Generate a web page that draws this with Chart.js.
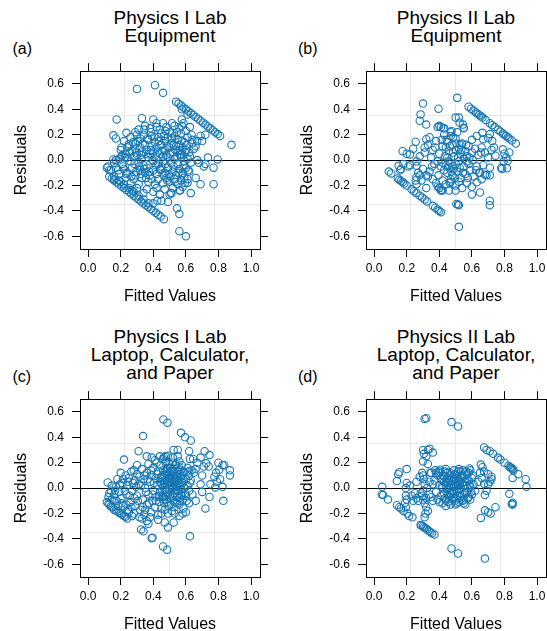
<!DOCTYPE html>
<html>
<head>
<meta charset="utf-8">
<title>Residuals vs Fitted Values</title>
<script src="https://cdn.jsdelivr.net/npm/chart.js@4.4.1/dist/chart.umd.min.js"></script>
<style>
  html, body { margin: 0; padding: 0; width: 547px; height: 631px; overflow: hidden; background: #fff; }
  body { position: relative; font-family: "Liberation Sans", Arial, sans-serif; color: #000; }
  .panel { position: absolute; width: 273px; height: 256px; }
  .title { position: absolute; width: 300px; text-align: center; font-size: 19px; line-height: 18px; }
  .tag { position: absolute; font-size: 16px; line-height: 16px; }
</style>
</head>
<body>
<div class="title" style="left:20px; top:9.4px">Physics I Lab<br>Equipment</div>
<div class="title" style="left:306px; top:9.4px">Physics II Lab<br>Equipment</div>
<div class="title" style="left:20px; top:327.7px">Physics I Lab<br>Laptop, Calculator,<br>and Paper</div>
<div class="title" style="left:306px; top:327.7px">Physics II Lab<br>Laptop, Calculator,<br>and Paper</div>
<div class="tag" style="left:12.5px; top:41px">(a)</div>
<div class="tag" style="left:298px; top:41px">(b)</div>
<div class="tag" style="left:12.5px; top:369px">(c)</div>
<div class="tag" style="left:298px; top:369px">(d)</div>

<canvas id="chartA" class="panel" width="273" height="256" style="left:0; top:56px"></canvas>
<canvas id="chartB" class="panel" width="273" height="256" style="left:286px; top:56px"></canvas>
<canvas id="chartC" class="panel" width="273" height="256" style="left:0; top:384px"></canvas>
<canvas id="chartD" class="panel" width="273" height="256" style="left:286px; top:384px"></canvas>

<script>
// axis ticks and reference lines
const xTicks = [0, 0.2, 0.4, 0.6, 0.8, 1.0];
const yTicks = [-0.6, -0.4, -0.2, 0, 0.2, 0.4, 0.6];
const xGridLines = [0.225, 0.5, 0.775];
const yGridLines = [-0.35, 0, 0.35];
const xRange = [-0.05, 1.055];
const yRange = [-0.7, 0.7];

// [fitted, residual] pairs
const panelA = [
  [0.30,0.56],[0.41,0.59],[0.46,0.53],
  [0.54,0.46],[0.555,0.445],[0.57,0.43],[0.585,0.415],[0.60,0.40],[0.615,0.385],[0.63,0.37],[0.645,0.355],[0.66,0.34],[0.675,0.325],
  [0.69,0.31],[0.705,0.295],[0.72,0.28],[0.735,0.265],[0.75,0.25],[0.765,0.235],[0.78,0.22],[0.795,0.205],[0.81,0.19],[0.88,0.12],
  [0.575,0.40],[0.61,0.36],
  [0.13,-0.13],[0.145,-0.145],[0.16,-0.16],[0.175,-0.175],[0.19,-0.19],[0.205,-0.205],[0.22,-0.22],[0.235,-0.235],[0.25,-0.25],
  [0.265,-0.265],[0.28,-0.28],[0.295,-0.295],[0.31,-0.31],[0.325,-0.325],[0.34,-0.34],[0.355,-0.355],[0.37,-0.37],[0.385,-0.385],
  [0.40,-0.40],[0.415,-0.415],[0.43,-0.43],[0.445,-0.445],[0.465,-0.465],
  [0.16,-0.13],[0.19,-0.16],[0.22,-0.19],[0.25,-0.22],[0.28,-0.25],[0.31,-0.28],[0.34,-0.31],[0.37,-0.34],
  [0.56,-0.56],[0.60,-0.60],
  [0.175,0.32],[0.33,0.33],[0.40,0.32],[0.155,0.195],[0.17,0.17],[0.235,0.215],[0.29,0.22],[0.30,0.20],[0.42,0.26],[0.46,0.29],
  [0.515,0.29],[0.575,0.32],[0.585,0.29],[0.575,0.27],[0.625,0.26],[0.635,0.20],[0.69,0.19],[0.72,0.20],[0.70,0.15],[0.67,0.15],
  [0.64,0.13],[0.66,0.11],[0.735,0.02],[0.795,0.005],[0.72,-0.03],[0.77,-0.06],[0.71,-0.05],[0.68,-0.02],[0.77,-0.19],[0.69,-0.19],
  [0.63,-0.26],[0.66,-0.14],[0.61,-0.15],[0.12,-0.05],[0.115,-0.06],[0.13,-0.08],[0.17,0.00],[0.155,0.005],[0.205,0.03],[0.21,0.04],
  [0.25,0.125],[0.24,0.10],[0.44,-0.27],[0.49,-0.33],[0.51,-0.26],[0.565,-0.24],[0.545,-0.38],[0.56,-0.425],[0.45,-0.32],[0.40,-0.34],
  [0.425,-0.32],[0.50,-0.27],
  [0.35,0.27],[0.38,0.25],[0.44,0.24],[0.48,0.26],[0.50,0.22],[0.53,0.27],[0.56,0.25],[0.60,0.23],[0.31,0.24],[0.42,0.29],
  [0.22,0.15],[0.26,0.18],[0.29,0.13],[0.32,0.17],[0.34,0.20],[0.37,0.16],[0.39,0.19],[0.41,0.14],[0.43,0.18],[0.45,0.21],
  [0.47,0.15],[0.49,0.18],[0.51,0.13],[0.53,0.19],[0.55,0.16],[0.57,0.21],[0.59,0.14],[0.61,0.18],[0.64,0.16],
  [0.20,0.08],[0.23,0.05],[0.25,0.11],[0.27,0.07],[0.29,0.09],[0.30,0.04],[0.32,0.10],[0.33,0.06],[0.35,0.12],[0.36,0.08],
  [0.38,0.05],[0.39,0.11],[0.40,0.07],[0.42,0.10],[0.44,0.05],[0.45,0.12],[0.47,0.08],[0.48,0.04],[0.50,0.10],[0.52,0.06],
  [0.54,0.11],[0.55,0.07],[0.57,0.05],[0.58,0.10],[0.60,0.08],[0.62,0.06],[0.65,0.09],[0.56,0.12],[0.46,0.03],
  [0.16,-0.02],[0.19,0.01],[0.21,-0.03],[0.24,0.02],[0.26,-0.01],[0.28,0.03],[0.31,-0.02],[0.33,0.01],[0.34,-0.04],[0.37,0.02],
  [0.40,-0.01],[0.41,0.03],[0.43,-0.03],[0.46,-0.01],[0.49,0.02],[0.51,-0.02],[0.53,0.01],[0.55,-0.03],[0.57,0.02],[0.59,-0.01],
  [0.61,0.01],[0.63,-0.02],[0.67,0.00],
  [0.14,-0.08],[0.17,-0.06],[0.19,-0.11],[0.22,-0.07],[0.24,-0.10],[0.27,-0.06],[0.29,-0.12],[0.32,-0.08],[0.35,-0.10],[0.36,-0.06],
  [0.38,-0.12],[0.40,-0.08],[0.42,-0.11],[0.44,-0.07],[0.47,-0.10],[0.49,-0.06],[0.52,-0.09],[0.54,-0.12],[0.56,-0.07],[0.58,-0.10],
  [0.60,-0.06],[0.62,-0.09],[0.45,-0.05],
  [0.16,-0.15],[0.20,-0.17],[0.23,-0.14],[0.26,-0.18],[0.28,-0.15],[0.31,-0.19],[0.33,-0.14],[0.37,-0.17],[0.39,-0.15],[0.41,-0.19],
  [0.43,-0.15],[0.46,-0.18],[0.48,-0.14],[0.50,-0.17],[0.53,-0.15],[0.55,-0.19],[0.57,-0.16],[0.59,-0.14],[0.61,-0.18],
  [0.27,-0.24],[0.30,-0.22],[0.34,-0.26],[0.36,-0.23],[0.40,-0.25],[0.42,-0.22],[0.44,-0.27],[0.47,-0.23],[0.51,-0.26],[0.52,-0.22],
  [0.56,-0.24],[0.58,-0.21],
  [0.255,0.06],[0.275,0.14],[0.285,-0.03],[0.295,0.06],[0.305,0.15],[0.315,-0.05],[0.325,0.04],[0.335,0.13],[0.345,-0.07],[0.355,0.05],
  [0.365,0.17],[0.375,-0.09],[0.385,0.08],[0.395,0.00],[0.405,0.18],[0.415,-0.04],[0.425,0.06],[0.435,0.15],[0.445,-0.08],[0.455,0.07],
  [0.465,0.19],[0.475,-0.03],[0.485,0.11],[0.495,-0.11],[0.505,0.05],[0.515,0.17],[0.525,-0.05],[0.535,0.08],[0.545,0.22],[0.555,-0.10],
  [0.565,0.04],[0.575,0.15],[0.585,-0.04],[0.595,0.06],[0.605,0.12],[0.615,-0.08],[0.625,0.03],[0.545,0.03],[0.565,0.08],[0.525,0.12],
  [0.505,-0.13],[0.485,-0.16],[0.465,-0.12],[0.445,0.12],[0.355,-0.14],[0.325,-0.11],[0.295,-0.09],[0.265,-0.13],[0.235,-0.11],[0.215,-0.05],
  [0.185,-0.08],[0.205,0.10],[0.225,0.02],[0.575,-0.12],[0.595,-0.18],[0.535,-0.17],[0.515,0.21],[0.475,0.23],[0.385,0.22],[0.345,0.24]
];

const panelB = [
  [0.58,0.42],[0.595,0.405],[0.61,0.39],[0.625,0.375],[0.635,0.365],[0.645,0.355],[0.655,0.345],[0.665,0.335],[0.685,0.315],[0.71,0.29],
  [0.725,0.275],[0.74,0.26],[0.76,0.24],[0.775,0.225],[0.79,0.21],[0.80,0.20],[0.81,0.19],[0.82,0.18],[0.83,0.17],[0.845,0.155],[0.87,0.13],
  [0.09,-0.09],[0.105,-0.105],[0.145,-0.145],[0.155,-0.155],[0.165,-0.165],[0.175,-0.175],[0.185,-0.185],[0.20,-0.20],[0.23,-0.23],
  [0.245,-0.245],[0.26,-0.26],[0.28,-0.28],[0.295,-0.295],[0.31,-0.31],[0.325,-0.325],[0.36,-0.36],[0.375,-0.375],[0.39,-0.39],
  [0.40,-0.40],[0.41,-0.41],
  [0.51,0.49],[0.30,0.445],[0.395,0.405],[0.285,0.36],[0.28,0.31],[0.32,0.28],[0.40,0.27],[0.425,0.25],[0.41,0.26],[0.50,0.335],
  [0.52,0.335],[0.525,0.295],[0.545,0.28],[0.55,0.255],[0.475,0.23],[0.47,0.19],[0.505,-0.345],[0.515,-0.35],[0.52,-0.355],[0.52,-0.525],
  [0.71,-0.32],[0.71,-0.355],[0.60,-0.27],[0.65,-0.255],[0.79,0.085],[0.81,0.02],[0.82,-0.005],[0.785,-0.07],[0.815,-0.065],[0.795,-0.01],
  [0.80,0.05],[0.83,0.06],[0.78,-0.06],[0.735,0.10],[0.745,0.035],[0.725,0.15],[0.70,0.175],[0.67,0.165],[0.665,0.215],[0.71,0.205],
  [0.68,-0.115],[0.71,-0.12],[0.66,-0.15],[0.63,-0.175],[0.645,-0.10],[0.175,0.07],[0.22,0.045],[0.15,-0.045],[0.165,-0.07],[0.21,-0.05],
  [0.26,-0.045],[0.26,-0.135],[0.255,-0.16],[0.26,-0.19],[0.32,-0.22],[0.255,0.145],[0.32,0.165],[0.31,0.10],[0.28,-0.12],[0.33,-0.13],
  [0.40,-0.22],[0.41,-0.235],[0.39,-0.21],[0.42,-0.24],[0.47,-0.17],[0.50,-0.24],
  [0.33,0.12],[0.36,0.08],[0.38,0.15],[0.40,0.05],[0.42,0.11],[0.43,0.20],[0.45,0.14],[0.46,0.07],[0.48,0.12],[0.49,0.03],
  [0.50,0.17],[0.52,0.09],[0.53,0.05],[0.54,0.13],[0.56,0.07],[0.57,0.03],[0.58,0.11],[0.60,0.06],[0.62,0.09],[0.64,0.04],
  [0.66,0.10],[0.68,0.06],[0.70,0.02],[0.72,0.08],[0.35,0.02],[0.37,-0.03],[0.39,-0.01],[0.41,-0.05],[0.42,-0.02],[0.43,-0.08],
  [0.44,-0.04],[0.45,-0.10],[0.46,-0.06],[0.47,-0.02],[0.48,-0.12],[0.49,-0.07],[0.50,-0.03],[0.51,-0.09],[0.52,-0.01],[0.53,-0.14],
  [0.55,-0.05],[0.56,-0.11],[0.58,-0.03],[0.59,-0.08],[0.61,-0.13],[0.63,-0.05],[0.65,-0.10],[0.67,-0.04],[0.69,-0.12],[0.71,-0.06],
  [0.30,-0.07],[0.32,-0.12],[0.34,-0.09],[0.36,-0.15],[0.38,-0.18],[0.40,-0.22],[0.42,-0.16],[0.44,-0.19],[0.46,-0.24],[0.47,-0.15],
  [0.50,-0.20],[0.52,-0.17],[0.54,-0.22],[0.57,-0.18],[0.60,-0.21],[0.41,-0.24],[0.43,0.25],[0.47,0.22],[0.55,0.25],[0.39,0.26],
  [0.60,0.16],[0.63,0.19],[0.34,0.18],[0.31,0.06],[0.28,0.03],[0.26,-0.01],[0.24,0.09],[0.22,-0.04],[0.20,0.05],[0.18,-0.03],
  [0.16,-0.08],[0.27,-0.10],[0.29,-0.16],[0.51,0.22],[0.45,0.02],[0.55,0.01],[0.50,0.08],[0.48,-0.05],[0.53,0.12],[0.44,0.10],[0.57,-0.01],
  [0.445,0.16],[0.455,-0.01],[0.465,0.11],[0.475,-0.09],[0.485,0.06],[0.495,-0.14],[0.505,0.13],[0.515,0.02],[0.525,-0.06],[0.535,0.08],
  [0.545,-0.10],[0.565,0.12],[0.575,-0.14],[0.585,0.02],[0.435,0.03],[0.415,0.16],[0.395,-0.12],[0.375,0.10],[0.355,-0.05],[0.465,-0.18],
  [0.485,0.18],[0.625,-0.08],[0.655,0.06],[0.605,0.00]
];

const panelC = [
  [0.462,0.54],[0.487,0.515],[0.337,0.41],[0.57,0.435],[0.595,0.40],[0.63,0.375],[0.31,0.29],[0.22,0.225],[0.525,0.30],[0.55,0.30],
  [0.49,0.255],[0.465,0.245],[0.475,0.25],[0.62,0.29],[0.625,0.23],[0.645,0.23],[0.715,0.29],[0.745,0.26],[0.69,0.24],[0.725,0.195],
  [0.71,0.17],[0.67,0.20],[0.66,0.15],[0.80,0.20],[0.825,0.18],[0.835,0.18],[0.87,0.14],[0.87,0.10],[0.805,0.145],[0.785,0.12],
  [0.775,0.09],[0.81,0.07],[0.79,0.05],[0.12,0.045],[0.78,0.005],[0.825,0.01],[0.83,-0.10],[0.72,-0.16],[0.745,-0.07],[0.70,-0.03],
  [0.69,0.03],[0.70,0.10],[0.75,0.03],[0.74,0.17],[0.47,-0.27],[0.49,-0.31],[0.525,-0.27],[0.625,-0.38],[0.325,-0.325],[0.34,-0.34],
  [0.39,-0.395],[0.395,-0.39],[0.46,-0.46],[0.485,-0.485],[0.36,-0.26],[0.37,-0.28],[0.58,-0.20],[0.60,-0.19],[0.56,-0.22],[0.62,-0.12],
  [0.66,-0.10],[0.64,-0.05],
  [0.115,-0.11],[0.125,-0.12],[0.13,-0.13],[0.14,-0.145],[0.15,-0.15],[0.16,-0.17],[0.17,-0.175],[0.18,-0.185],[0.19,-0.195],[0.20,-0.20],
  [0.21,-0.21],[0.22,-0.22],[0.23,-0.225],[0.24,-0.24],
  [0.13,-0.04],[0.125,-0.07],[0.14,-0.02],[0.145,-0.09],[0.16,-0.05],[0.17,0.01],[0.175,-0.10],[0.18,0.07],[0.19,-0.03],[0.20,0.12],
  [0.205,-0.08],[0.21,0.04],[0.215,-0.14],[0.23,0.10],[0.235,-0.05],[0.24,0.02],[0.245,-0.17],[0.25,0.08],[0.26,-0.11],[0.265,0.13],
  [0.27,-0.02],[0.28,-0.20],[0.285,0.06],[0.29,-0.14],[0.30,0.11],[0.30,-0.06],[0.31,0.03],[0.315,-0.23],[0.32,-0.17],[0.33,0.15],
  [0.335,-0.09],[0.34,0.07],[0.345,-0.21],[0.35,0.00],[0.36,0.12],[0.36,-0.13],[0.37,0.19],[0.37,-0.05],[0.38,0.05],[0.385,-0.19],
  [0.39,0.10],[0.395,-0.10],[0.40,0.16],[0.40,-0.02],[0.41,0.22],[0.41,-0.15],[0.415,0.08],[0.42,-0.07],[0.425,0.02],[0.43,-0.21],
  [0.43,0.13],[0.435,-0.11],[0.44,0.05],[0.44,-0.03],[0.445,0.18],[0.45,-0.16],[0.45,0.09],[0.455,-0.06],[0.46,0.01],[0.46,0.14],
  [0.465,-0.12],[0.47,0.06],[0.47,-0.02],[0.475,0.20],[0.48,-0.09],[0.48,0.11],[0.485,0.03],[0.49,-0.05],[0.49,0.16],[0.495,-0.14],
  [0.50,0.08],[0.50,-0.01],[0.505,0.04],[0.51,-0.08],[0.51,0.13],[0.515,-0.18],[0.52,0.00],[0.52,0.09],[0.525,-0.04],[0.53,0.15],
  [0.53,0.05],[0.535,-0.11],[0.54,0.02],[0.54,0.19],[0.545,-0.07],[0.55,0.10],[0.55,-0.02],[0.555,0.06],[0.56,-0.13],[0.56,0.14],
  [0.565,0.01],[0.57,-0.05],[0.57,0.09],[0.575,0.18],[0.58,-0.09],[0.58,0.04],[0.585,-0.16],[0.59,0.12],[0.59,0.00],[0.60,0.07],
  [0.60,-0.06],[0.61,0.16],[0.61,0.02],[0.62,-0.02],[0.62,0.10],[0.63,0.06],[0.65,0.12],[0.44,0.25],[0.43,-0.25],[0.38,-0.23],
  [0.35,-0.17],[0.33,-0.24],[0.27,-0.22],[0.25,-0.19],[0.36,0.25],[0.39,0.24],[0.42,0.20],[0.30,0.18],[0.28,0.14],[0.49,-0.20],
  [0.53,-0.20],[0.55,0.25],[0.52,0.24],[0.46,0.23],
  [0.45,0.03],[0.47,0.10],[0.48,-0.03],[0.50,0.12],[0.51,0.05],[0.52,-0.06],[0.53,0.01],[0.54,0.07],[0.55,0.13],[0.56,0.04],
  [0.57,-0.01],[0.58,0.08],[0.49,0.07],[0.46,-0.07],[0.50,0.02],[0.53,0.11],[0.56,-0.08],[0.51,0.09],[0.47,0.04],[0.54,-0.01],
  [0.455,0.10],[0.465,0.04],[0.475,-0.06],[0.485,0.15],[0.495,0.05],[0.505,-0.05],[0.515,0.07],[0.525,0.13],[0.535,-0.02],[0.545,0.09],
  [0.555,0.17],[0.565,-0.10],[0.575,0.05],[0.585,0.13],[0.595,-0.04],[0.505,0.16],[0.515,0.01],[0.525,0.06],[0.535,0.18],[0.545,-0.12],
  [0.555,0.02],[0.565,0.11],[0.575,-0.06],[0.485,-0.11],[0.495,0.10],[0.475,0.13],[0.465,-0.09],[0.455,-0.02],[0.445,0.08],[0.435,-0.06],
  [0.425,0.11],[0.415,-0.10],[0.405,0.04],[0.395,-0.05],[0.385,0.14],[0.375,-0.12],[0.365,0.07],[0.355,-0.03],[0.345,0.10],[0.335,-0.15],
  [0.325,0.02],[0.315,0.09],[0.305,-0.10],[0.295,0.01],[0.285,-0.08],[0.275,0.04],[0.265,-0.15],[0.255,-0.06],[0.245,0.05],[0.235,-0.13],
  [0.225,-0.02],[0.215,0.07],[0.205,-0.12],[0.195,0.03],[0.185,-0.14],[0.165,-0.02],[0.155,-0.10],[0.145,0.02],[0.615,0.13],[0.605,-0.10],
  [0.625,0.04],[0.635,0.14],[0.52,0.20],[0.50,0.19],[0.48,0.21],[0.56,0.21],[0.53,-0.15],[0.51,-0.13],[0.47,-0.17],[0.45,-0.20]
];

const panelD = [
  [0.31,0.545],[0.32,0.55],[0.475,0.52],[0.515,0.485],
  [0.05,0.01],[0.047,-0.05],[0.055,-0.055],[0.085,-0.09],[0.14,0.055],[0.148,0.11],[0.155,0.125],[0.20,0.15],[0.20,0.04],[0.195,0.00],
  [0.195,-0.06],[0.20,-0.09],[0.19,-0.115],[0.195,-0.15],[0.205,-0.20],[0.215,-0.22],[0.14,-0.135],[0.155,-0.15],[0.165,-0.16],[0.18,-0.18],
  [0.235,-0.23],[0.22,0.02],[0.23,-0.06],[0.24,-0.10],[0.25,-0.04],[0.26,-0.08],
  [0.285,-0.29],[0.29,-0.295],[0.30,-0.30],[0.305,-0.31],[0.315,-0.315],[0.325,-0.325],[0.335,-0.335],[0.345,-0.345],[0.355,-0.355],[0.37,-0.365],
  [0.30,0.30],[0.305,0.27],[0.33,0.30],[0.34,0.31],[0.36,0.28],[0.32,0.25],[0.30,0.21],[0.33,0.19],[0.295,0.12],[0.30,0.10],
  [0.305,0.07],[0.31,0.03],[0.30,-0.02],[0.295,-0.06],[0.30,-0.09],[0.31,-0.12],[0.32,-0.15],[0.33,-0.18],[0.31,-0.23],[0.315,-0.20],
  [0.285,-0.04],[0.27,-0.10],[0.325,0.00],[0.32,-0.08],[0.34,0.05],[0.34,-0.05],[0.35,0.12],[0.36,-0.10],[0.28,0.09],[0.26,0.05],
  [0.345,0.12],[0.375,0.14],[0.405,0.145],
  [0.585,0.155],[0.655,0.185],[0.665,0.165],[0.675,0.13],[0.70,0.11],[0.72,0.09],[0.71,0.05],[0.70,0.03],[0.66,0.08],[0.675,0.035],
  [0.69,-0.02],[0.72,0.07],[0.65,0.12],[0.64,0.05],
  [0.675,0.32],[0.69,0.30],[0.71,0.29],[0.73,0.27],[0.76,0.24],[0.775,0.225],[0.80,0.20],[0.825,0.175],[0.835,0.165],[0.84,0.16],
  [0.845,0.155],[0.85,0.15],[0.855,0.14],[0.885,0.11],[0.93,0.07],[0.935,0.01],[0.85,0.08],
  [0.83,-0.045],[0.85,-0.115],[0.845,-0.125],[0.85,-0.13],[0.68,-0.055],[0.745,-0.15],[0.70,-0.19],[0.68,-0.175],[0.655,-0.235],[0.715,-0.20],
  [0.475,-0.475],[0.515,-0.515],[0.68,-0.555],
  [0.37,0.06],[0.38,-0.03],[0.39,0.10],[0.39,-0.09],[0.40,0.02],[0.40,0.13],[0.41,-0.06],[0.41,0.07],[0.42,-0.12],[0.42,0.00],
  [0.43,0.09],[0.43,-0.04],[0.44,0.04],[0.44,-0.10],[0.45,0.12],[0.45,-0.01],[0.46,0.06],[0.46,-0.07],[0.47,0.02],[0.47,-0.13],
  [0.48,0.09],[0.48,-0.04],[0.49,0.14],[0.49,0.01],[0.50,-0.08],[0.50,0.05],[0.51,-0.02],[0.51,0.11],[0.52,0.07],[0.52,-0.11],
  [0.53,0.00],[0.53,0.13],[0.54,-0.05],[0.54,0.04],[0.55,0.09],[0.55,-0.09],[0.56,0.02],[0.56,-0.13],[0.57,0.11],[0.57,-0.03],
  [0.58,0.06],[0.58,-0.07],[0.59,0.01],[0.59,0.14],[0.60,-0.05],[0.60,0.08],[0.61,0.03],[0.62,-0.02],[0.38,0.12],[0.40,-0.11],
  [0.44,0.15],[0.47,0.10],[0.50,-0.13],[0.52,0.15],[0.55,0.02],[0.57,0.07],[0.45,0.08],[0.48,-0.09],[0.51,0.04],[0.53,-0.07],
  [0.46,0.00],[0.49,-0.02],[0.43,0.05],[0.54,0.10],[0.56,-0.04],[0.58,0.12],[0.50,0.10],[0.42,0.07],[0.47,-0.05],[0.52,-0.01],
  [0.55,-0.12],[0.59,-0.09],[0.36,0.03],[0.35,-0.07],[0.44,-0.14],[0.49,0.07],[0.53,0.05],[0.51,-0.06],[0.45,-0.05],[0.48,0.03],
  [0.395,0.12],
  [0.415,0.01],[0.425,0.10],[0.435,-0.08],[0.445,0.07],[0.455,-0.11],[0.465,0.12],[0.475,-0.02],[0.485,0.06],[0.495,-0.10],[0.505,0.02],
  [0.515,0.13],[0.525,-0.04],[0.535,0.09],[0.545,-0.10],[0.555,0.05],[0.565,0.13],[0.575,-0.08],[0.585,0.03],[0.595,-0.03],[0.605,0.10],
  [0.435,0.13],[0.465,-0.04],[0.495,0.11],[0.525,0.03],[0.545,0.14],[0.575,0.00],[0.505,-0.12],[0.455,0.04],[0.485,-0.07],[0.515,0.08]
];

Chart.defaults.font.family = "'Liberation Sans', Arial, Helvetica, sans-serif";
Chart.defaults.color = "#000";

const pointColor = "#1677b5";
const frameColor = "#000";
const gridColor = "#e8e8e8";
const tickFont = { size: 12 };
const labelFont = { size: 16 };

// replace generated ticks with a fixed list
const fixTicks = values => scale => { scale.ticks = values.map(v => ({ value: v })); };
const fmt = v => Number(v).toFixed(1);

function frameAxis(position, ticks, range, size, extra) {
  return Object.assign({
    type: "linear",
    position: position,
    min: range[0],
    max: range[1],
    afterBuildTicks: fixTicks(ticks),
    ticks: { display: false },
    grid: { drawOnChartArea: false, drawTicks: true, tickLength: 8, tickColor: frameColor, tickWidth: 1 },
    border: { display: true, color: frameColor, width: 1 },
    afterFit: s => { if (s.isHorizontal()) s.height = size; else s.width = size; }
  }, extra || {});
}

function gridAxis(position, lines, range) {
  return {
    type: "linear",
    position: position,
    min: range[0],
    max: range[1],
    afterBuildTicks: fixTicks(lines),
    ticks: { display: false },
    grid: {
      drawTicks: false,
      lineWidth: 1,
      color: ctx => (ctx.tick && ctx.tick.value === 0 ? frameColor : gridColor)
    },
    border: { display: false },
    afterFit: s => { if (s.isHorizontal()) s.height = 0; else s.width = 0; }
  };
}

function makePanel(id, points) {
  new Chart(document.getElementById(id), {
    type: "scatter",
    data: {
      datasets: [{
        data: points.map(p => ({ x: p[0], y: p[1] })),
        pointStyle: "circle",
        pointRadius: 3.7,
        pointBorderWidth: 1.1,
        pointBorderColor: pointColor,
        pointBackgroundColor: "rgba(0,0,0,0)",
        showLine: false
      }]
    },
    options: {
      responsive: false,
      animation: false,
      events: [],
      layout: { padding: 0, autoPadding: false },
      plugins: { legend: { display: false }, tooltip: { enabled: false } },
      scales: {
        xGrid: gridAxis("bottom", xGridLines, xRange),
        yGrid: gridAxis("left", yGridLines, yRange),
        x: frameAxis("bottom", xTicks, xRange, 63, {
          ticks: { display: true, font: tickFont, padding: 4, maxRotation: 0, minRotation: 0, autoSkip: false, callback: fmt },
          title: { display: true, text: "Fitted Values", font: labelFont, padding: { top: 0, bottom: 5.4 } }
        }),
        xTop: frameAxis("top", xTicks, xRange, 14),
        y: frameAxis("left", yTicks, yRange, 80, {
          ticks: { display: true, font: tickFont, padding: 8, autoSkip: false, callback: fmt },
          title: { display: true, text: "Residuals", font: labelFont, padding: { top: 12, bottom: 0 } }
        }),
        yRight: frameAxis("right", yTicks, yRange, 13)
      }
    }
  });
}

makePanel("chartA", panelA);
makePanel("chartB", panelB);
makePanel("chartC", panelC);
makePanel("chartD", panelD);
</script>
</body>
</html>
